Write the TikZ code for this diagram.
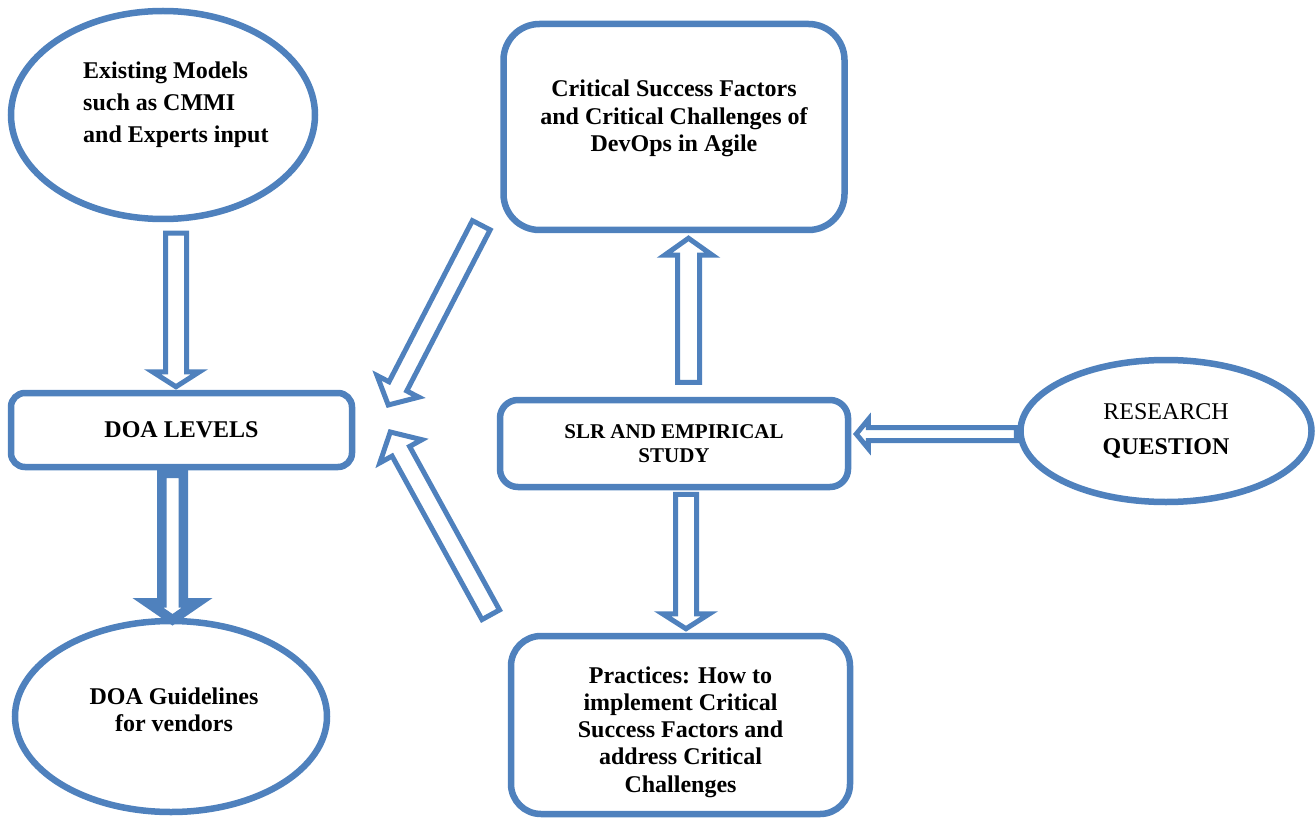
\documentclass[tikz,border=0pt]{standalone}
\usepackage{fontspec}
\setmainfont{Liberation Serif}
\usetikzlibrary{shapes,calc,positioning}
\definecolor{doablue}{RGB}{79,129,189}

% hollow block arrow: [style]{from}{to}{shaft half width}{head half width}{head length}
\newcommand\blockarrow[6][]{%
  \coordinate (ba-h) at ($(#3)!#6!(#2)$);
  \draw[barrow,#1] ($(#2)!#4!90:(#3)$) -- ($(ba-h)!#4!90:(#3)$)
    -- ($(ba-h)!#5!90:(#3)$) -- (#3) -- ($(ba-h)!#5!-90:(#3)$)
    -- ($(ba-h)!#4!-90:(#3)$) -- ($(#2)!#4!-90:(#3)$) -- cycle;
}

\begin{document}
\begin{tikzpicture}
[x=1pt,y=-1pt,
    font=\bfseries\fontsize{24}{27.5}\selectfont,
    oval/.style={draw=doablue,line width=6.5pt,shape=ellipse,inner sep=0pt,align=center},
    rbox/.style={draw=doablue,line width=6.5pt,shape=rectangle,rounded corners=#1,inner sep=0pt,align=center},
    rbox/.default=15pt,
    txt/.style={inner sep=0pt,align=center},
    barrow/.style={draw=doablue,line width=5pt,fill=white,line join=miter}]
\useasboundingbox (0,0) rectangle (1316,818);
%% nodes
\node (exist) [oval,minimum width=304pt,minimum height=208pt] at (163,115) {};
\node (existtxt) [txt,align=left,anchor=west] at (83,105)
  {Existing Models\\[4.5pt]such as CMMI\\[4.5pt]and Experts input};
\node (csf) [rbox=36pt,minimum width=341pt,minimum height=206pt] at (674,127) {};
\node (csftxt) [txt] at (674,118.5)
  {Critical Success Factors\\and Critical Challenges of\\DevOps in Agile};
\node (doa) [rbox=14pt,minimum width=341pt,minimum height=74pt] at (181.5,430) {DOA LEVELS};
\node (slr) [rbox=18pt,minimum width=348pt,minimum height=87pt,
  font=\bfseries\fontsize{21}{23.5}\selectfont] at (674,443.5) {SLR AND EMPIRICAL\\STUDY};
\node (rq) [oval,minimum width=291pt,minimum height=142pt] at (1166,431)
  {{\mdseries RESEARCH}\\[7.5pt]QUESTION};
\node (guide) [oval,minimum width=312pt,minimum height=191pt] at (171,716.5) {};
\node (guidetxt) [txt] at (174,710) {DOA Guidelines\\for vendors};
\node (prac) [rbox=30pt,minimum width=339pt,minimum height=178pt] at (680.5,725) {};
\node (practxt) [txt,font=\bfseries\fontsize{24}{27.3}\selectfont] at (680.5,732)
  {Practices: How to\\implement Critical\\Success Factors and\\address Critical\\Challenges};
%% arrow ends
\coordinate (a1s) at ($(exist.south)+(13,11)$);
\coordinate (a1e) at ($(doa.north)+(-5.5,-3)$);
\coordinate (a2s) at ($(doa.south)+(-9,3)$);
\coordinate (a2e) at ($(guide.north)+(1.5,2)$);
\coordinate (a3s) at ($(slr.north)+(14.5,-14.5)$);
\coordinate (a3e) at ($(csf.south)+(14.5,5)$);
\coordinate (a4s) at ($(slr.south)+(12,4)$);
\coordinate (a4e) at ($(prac.north)+(5.5,-4)$);
\coordinate (a5s) at ($(rq.west)+(-1,3)$);
\coordinate (a5e) at ($(slr.east)+(5,-9.5)$);
\coordinate (a6s) at ($(csf.south west)+(-19,-8)$);
\coordinate (a6e) at ($(doa.east)+(33,-25)$);
\coordinate (a7s) at ($(prac.north west)+(-17,-18)$);
\coordinate (a7e) at ($(doa.east)+(35,2)$);
%% arrows
\blockarrow{a1s}{a1e}{10.5pt}{23.5pt}{15pt}
\blockarrow[line width=9.5pt]{a2s}{a2e}{10.75pt}{24.75pt}{17pt}
\blockarrow{a3s}{a3e}{11pt}{24pt}{17pt}
\blockarrow{a4s}{a4e}{10.5pt}{23.5pt}{15pt}
\blockarrow{a5s}{a5e}{6.5pt}{14.5pt}{12pt}
\blockarrow{a6s}{a6e}{10pt}{23.5pt}{21pt}
\blockarrow{a7s}{a7e}{10pt}{24pt}{22pt}
\end{tikzpicture}
\end{document}
